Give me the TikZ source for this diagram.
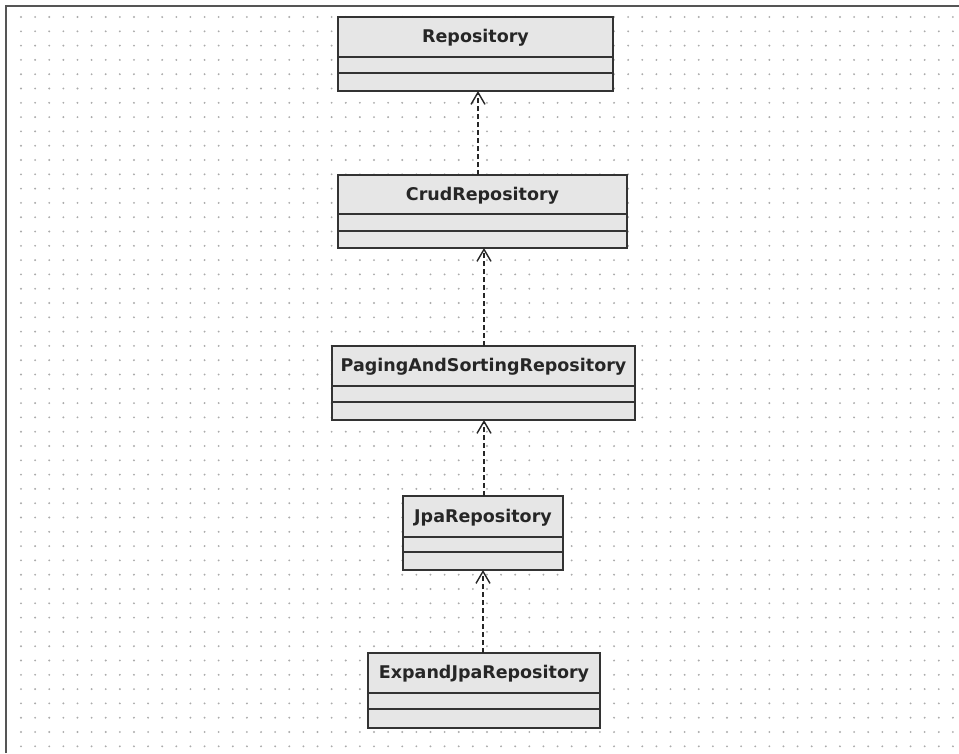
\documentclass[tikz,border=0pt]{standalone}
\usepackage{fontspec}
\setmainfont{DejaVu Sans}
\usetikzlibrary{arrows.meta,calc}
\definecolor{boxfill}{HTML}{E6E6E6}
\definecolor{boxline}{HTML}{333333}
\definecolor{dotcol}{HTML}{ABABAB}
\definecolor{framecol}{HTML}{555555}
\tikzset{
  classbox/.style={draw=boxline, fill=boxfill, line width=1.6pt, inner sep=0pt, outer sep=0pt},
  classtitle/.style={font=\fontsize{17.5}{20}\selectfont\bfseries, text=black!85, inner sep=0pt},
  sepline/.style={draw=boxline, line width=1.6pt},
  dep/.style={draw=black!85, line width=1.6pt, dash pattern=on 5pt off 3pt, -{Straight Barb[length=12pt,width=14pt,line width=1.4pt]}},
}
% \umlclass{name}{left}{right}{top}{sep1}{sep2}{bottom}{title}
\newcommand{\umlclass}[8]{%
  \node[classbox, minimum width={(#3-#2)*1pt}, minimum height={(#7-#4)*1pt}] (#1) at ({(#2+#3)/2},{(#4+#7)/2}) {};
  \node[classtitle] (#1-t) at ({(#2+#3)/2},{(#4+#5)/2+1}) {#8};
  \draw[sepline] (#2,#5) -- (#3,#5);
  \draw[sepline] (#2,#6) -- (#3,#6);
}
\begin{document}
\begin{tikzpicture}[x=1pt,y=-1pt]
\useasboundingbox (0,0) rectangle (959,753);
\fill[white] (0,0) rectangle (959,753);
% dotted grid
\foreach \i in {0,...,66}{
  \foreach \j in {0,...,51}{
    \fill[dotcol] ({21+14.12*\i},{17+14.3*\j}) circle (1.05pt);
  }
}
% frame
\draw[framecol, line width=1.5pt] (6,753) -- (6,6) -- (959,6);
% classes
\umlclass{R}{338}{613}{17}{57}{73}{91}{Repository}
\umlclass{C}{338}{627}{175}{214}{231}{248}{CrudRepository}
\umlclass{P}{332}{635}{346}{386}{402}{420}{PagingAndSortingRepository}
\umlclass{J}{403}{563}{496}{537}{552}{570}{JpaRepository}
\umlclass{E}{368}{600}{653}{693}{709}{728}{ExpandJpaRepository}
% dependencies
\draw[dep] ([xshift=-4.5pt]C.north) -- ([xshift=-4.5pt]C.north |- R.south);
\draw[dep] ([xshift=0.5pt]P.north) -- ([xshift=0.5pt]P.north |- C.south);
\draw[dep] ([xshift=1pt]J.north) -- ([xshift=1pt]J.north |- P.south);
\draw[dep] ([xshift=-1pt]E.north) -- ([xshift=-1pt]E.north |- J.south);
\end{tikzpicture}
\end{document}
